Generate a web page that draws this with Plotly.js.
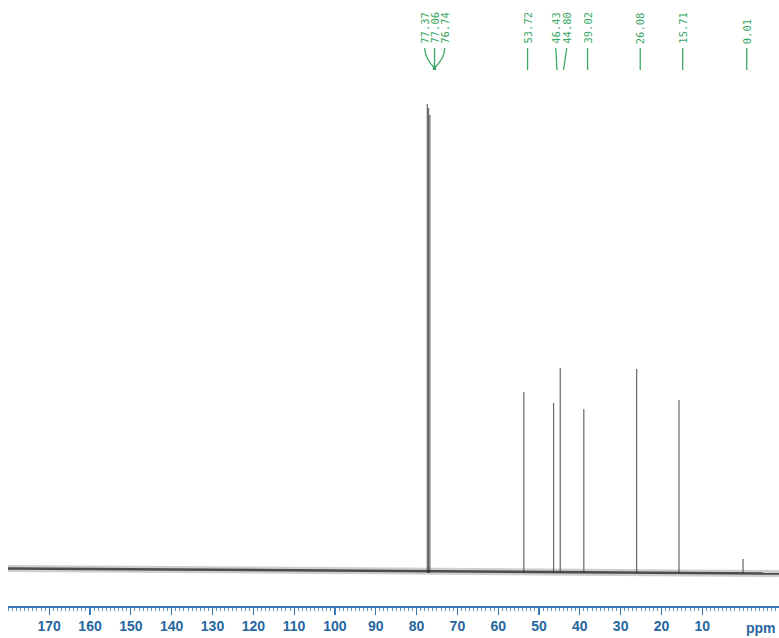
<!DOCTYPE html>
<html>
<head>
<meta charset="utf-8">
<script src="https://cdn.plot.ly/plotly-3.0.1.min.js"></script>
<style>html,body{margin:0;padding:0;background:#fff;overflow:hidden}#chart{width:779px;height:638px}</style>
</head>
<body>
<div id="chart"></div>
<script>
// Peak positions (ppm) and heights (arbitrary intensity units, baseline = 0)
const peakPpm = [77.37, 77.06, 76.74, 53.72, 46.43, 44.80, 39.02, 26.08, 15.71, 0.01];
const peakHeight = [466, 462, 455, 178, 167, 202, 161, 201, 170, 11];
// Peak labels shown at top
const labelText = ["77.37", "77.06", "76.74", "53.72", "46.43", "44.80", "39.02", "26.08", "15.71", "0.01"];
// Label display positions (ppm) where labels are spread apart
const labelPpm = [78.0, 75.6, 73.1, 52.8, 45.9, 43.2, 38.1, 25.2, 14.8, -0.9];
// Baseline end points
const baseX = [180.1, -8.8];
const baseY = [1.5, -3.5];
// Axis ticks
const tickVals = [170, 160, 150, 140, 130, 120, 110, 100, 90, 80, 70, 60, 50, 40, 30, 20, 10];

const green = '#3aa864';
const traces = [];

// peak sticks
const sx = [], sy = [];
peakPpm.forEach((p, i) => { sx.push(p, p, null); sy.push(-3, peakHeight[i], null); });
traces.push({x: sx, y: sy, mode: 'lines', line: {color: '#666666', width: 1.2}, hoverinfo: 'skip'});

// noisy baseline band
traces.push({x: baseX, y: baseY, mode: 'lines', line: {color: 'rgba(80,80,80,0.28)', width: 7}, hoverinfo: 'skip'});
traces.push({x: baseX, y: baseY, mode: 'lines', line: {color: 'rgba(45,45,45,0.8)', width: 2.5}, hoverinfo: 'skip'});

const annotations = labelText.map((t, i) => ({
  x: labelPpm[i], y: 524, xref: 'x', yref: 'y', text: t, showarrow: false,
  textangle: -90, xanchor: 'center', yanchor: 'bottom',
  font: {family: 'DejaVu Sans Mono', size: 10.5, color: green}
}));
annotations.push({x: 1, y: -0.036, xref: 'paper', yref: 'paper', text: '<b>ppm</b>', showarrow: false,
  xanchor: 'right', yanchor: 'middle', xshift: -1, font: {family: 'Liberation Sans', size: 14, color: '#2666a0'}});

// leader lines from labels to peaks
const shapes = [];
labelPpm.forEach((lp, i) => {
  if (i < 3) {
    shapes.push({type: 'path', xref: 'x', yref: 'y',
      path: 'M' + lp + ',522 Q' + lp + ',512 75.6,502',
      line: {color: green, width: 1.3}});
  } else {
    let x1 = lp;
    if (i === 4) x1 = 45.6;
    if (i === 5) x1 = 44.0;
    shapes.push({type: 'line', xref: 'x', yref: 'y', x0: lp, y0: 522, x1: x1, y1: 500,
      line: {color: green, width: 1.3}});
  }
});
shapes.push({type: 'rect', xref: 'x', yref: 'y', x0: 76.0, x1: 75.2, y0: 500, y1: 504, fillcolor: green, line: {color: green, width: 0}});

const layout = {
  width: 779, height: 638,
  margin: {l: 8, r: 0, t: 0, b: 32},
  paper_bgcolor: '#fff', plot_bgcolor: '#fff',
  showlegend: false,
  xaxis: {
    range: [180.1, -8.8], showgrid: false, zeroline: false,
    showline: true, linecolor: '#3a7ab8', linewidth: 1.5,
    ticks: 'outside', ticklen: 7, tickwidth: 1.2, tickcolor: '#3a7ab8',
    tickvals: tickVals, ticktext: tickVals.map(String),
    tickfont: {family: 'Liberation Sans', size: 14, color: '#2666a0', weight: 'bold'},
    minor: {dtick: 1, tick0: 0, ticks: 'outside', ticklen: 3, tickcolor: '#5a90c4', tickwidth: 1, showgrid: false}
  },
  yaxis: {range: [-36, 570], visible: false, showgrid: false, zeroline: false},
  annotations: annotations,
  shapes: shapes
};

Plotly.newPlot('chart', traces, layout, {staticPlot: true, displayModeBar: false});
</script>
</body>
</html>
